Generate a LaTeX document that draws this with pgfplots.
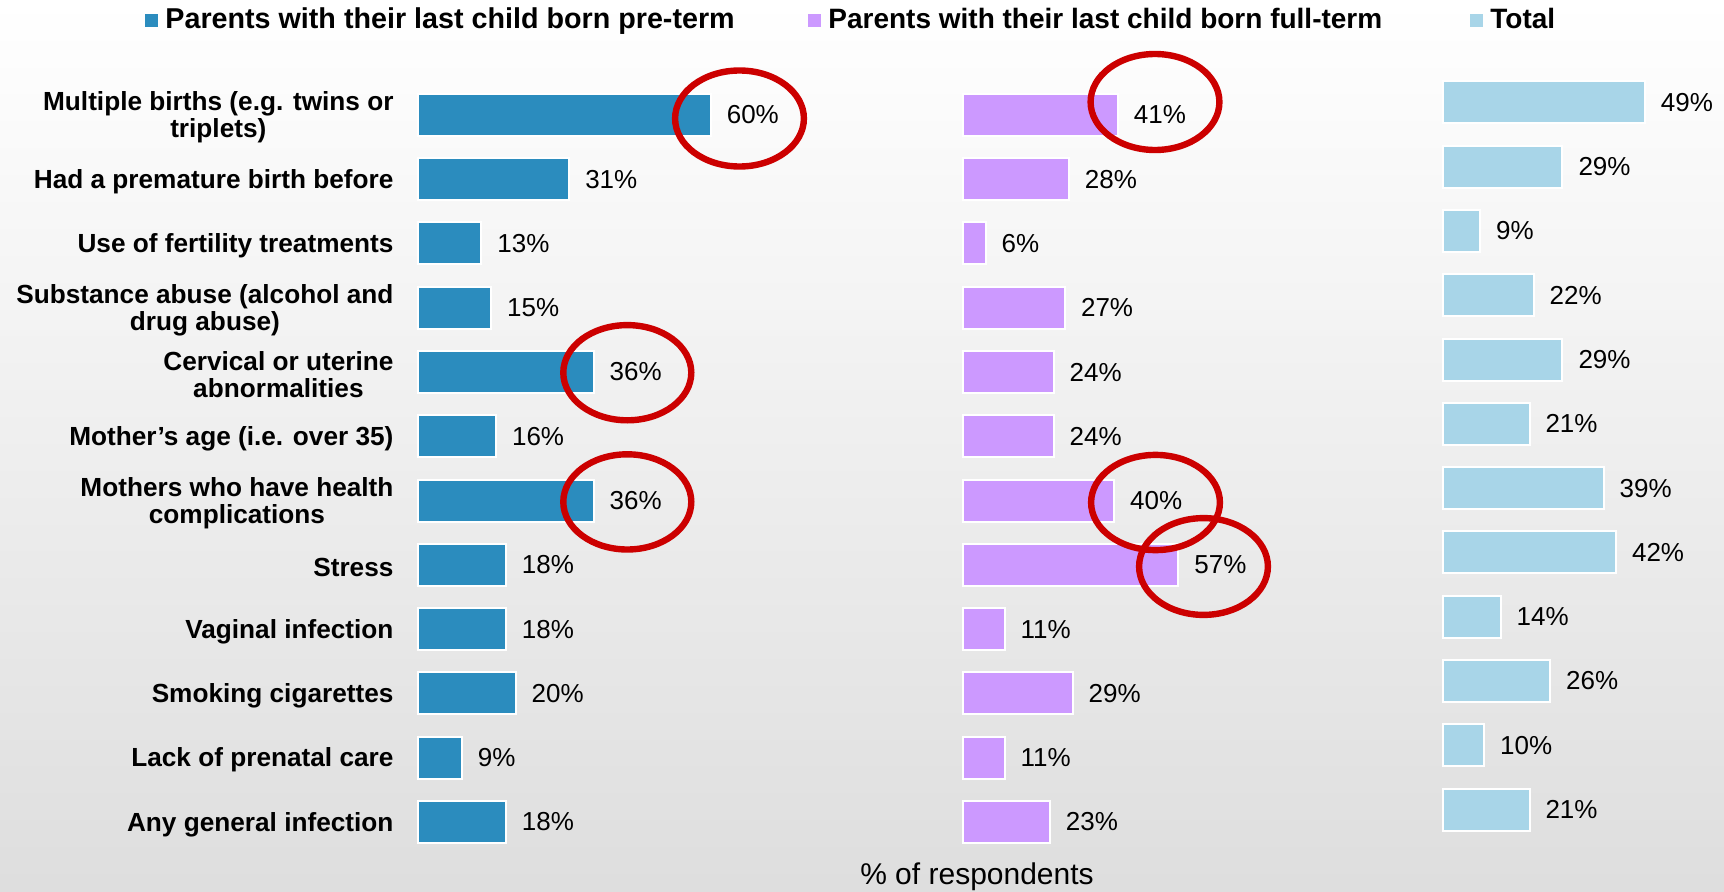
\documentclass[border=0pt]{standalone}
\usepackage{fontspec}
\setmainfont{Liberation Sans}
\usepackage{pgfplots}
\pgfplotsset{compat=1.18}
\definecolor{pre}{HTML}{2B8CBE}
\definecolor{full}{HTML}{CC99FF}
\definecolor{tot}{HTML}{A8D5E8}
\definecolor{ring}{HTML}{CC0000}
\pgfplotsset{
  panel/.style={
    xbar, scale only axis, xmin=0, xmax=100, ymin=0.5, ymax=12.5, y dir=reverse,
    height=385.7pt, clip=false, bar width=21pt,
    point meta=x,
    /pgf/number format/assume math mode=true,
    nodes near coords={\pgfmathprintnumber{\pgfplotspointmeta}\%},
    every node near coord/.append style={anchor=west, inner sep=0pt, xshift=7.5pt,
      font=\fontsize{13}{15}\selectfont, text=black},
  },
}
\begin{document}
\begin{tikzpicture}
\shade[top color=white, bottom color=black!13] (0pt,0pt) rectangle (862pt,445.5pt);
% pre-term
\begin{axis}[panel, at={(209pt,18.43pt)}, anchor=south west, width=244pt,
  axis line style={draw=none}, tick style={draw=none}, xtick=\empty,
  ytick={1,...,12},
  yticklabels={{Multiple births (e.g. twins or\\triplets)},
    {Had a premature birth before},
    {Use of fertility treatments},
    {Substance abuse (alcohol and\\drug abuse)},
    {Cervical or uterine\\abnormalities},
    {Mother’s age (i.e. over 35)},
    {Mothers who have health\\complications},
    {Stress},
    {Vaginal infection},
    {Smoking cigarettes},
    {Lack of prenatal care},
    {Any general infection}},
  yticklabel style={align=center, font=\fontsize{13.1}{13.4}\selectfont\bfseries, inner sep=0pt, xshift=-7.8pt, yshift=-1.2pt}]
\addplot[fill=pre, draw=white, line width=1pt] coordinates {
  (60,1) (31,2) (13,3) (15,4) (36,5) (16,6) (36,7) (18,8) (18,9) (20,10) (9,11) (18,12)};
\end{axis}
% full-term
\begin{axis}[panel, at={(481.5pt,18.43pt)}, anchor=south west, width=189pt, hide axis]
\addplot[fill=full, draw=white, line width=1pt] coordinates {
  (41,1) (28,2) (6,3) (27,4) (24,5) (24,6) (40,7) (57,8) (11,9) (29,10) (11,11) (23,12)};
\end{axis}
% total
\begin{axis}[panel, at={(721.5pt,24.68pt)}, anchor=south west, width=206pt, hide axis]
\addplot[fill=tot, draw=white, line width=1pt] coordinates {
  (49,1) (29,2) (9,3) (22,4) (29,5) (21,6) (39,7) (42,8) (14,9) (26,10) (10,11) (21,12)};
\end{axis}
% highlight rings
\begin{scope}[draw=ring, line width=3.2pt]
\draw (369.75pt,386.25pt) ellipse [x radius=32.2pt, y radius=24pt];
\draw (577.5pt,394.5pt) ellipse [x radius=32.2pt, y radius=24pt];
\draw (313.65pt,259.15pt) ellipse [x radius=32pt, y radius=23.8pt];
\draw (313.65pt,194.55pt) ellipse [x radius=32pt, y radius=23.8pt];
\draw (577.75pt,194.25pt) ellipse [x radius=32.2pt, y radius=23.8pt];
\draw (601.75pt,162.25pt) ellipse [x radius=32.2pt, y radius=24.2pt];
\end{scope}
% legend
\fill[pre] (72.25pt,431.75pt) rectangle ++(6.5pt,6.5pt);
\node[anchor=base west, inner sep=0pt, font=\fontsize{14.35}{16}\selectfont\bfseries] at (82.5pt,431.25pt) {Parents with their last child born pre-term};
\fill[full] (403.75pt,431.75pt) rectangle ++(6.5pt,6.5pt);
\node[anchor=base west, inner sep=0pt, font=\fontsize{14}{16}\selectfont\bfseries] at (414pt,431.25pt) {Parents with their last child born full-term};
\fill[tot] (734.75pt,431.75pt) rectangle ++(6.5pt,6.5pt);
\node[anchor=base west, inner sep=0pt, font=\fontsize{14}{16}\selectfont\bfseries] at (745pt,431.25pt) {Total};
% axis title
\node[anchor=base, inner sep=0pt, font=\fontsize{15}{17}\selectfont] at (488.5pt,3.5pt) {\% of respondents};
\pgfresetboundingbox
\useasboundingbox (0pt,0pt) rectangle (862pt,445.5pt);
\end{tikzpicture}
\end{document}
